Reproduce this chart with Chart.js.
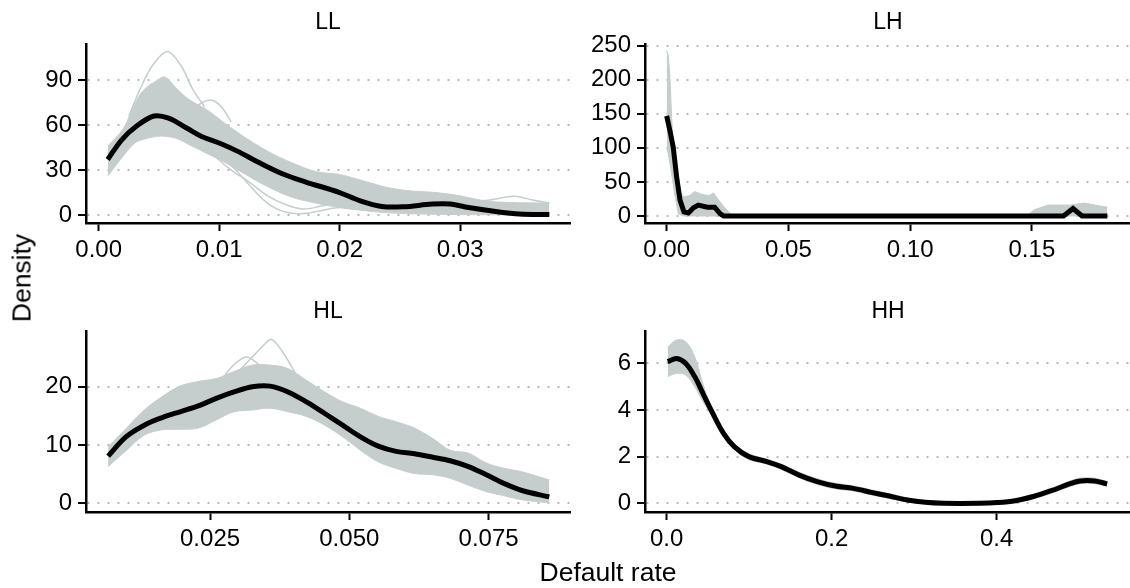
<!DOCTYPE html>
<html lang="en">
<head>
    <meta charset="UTF-8">
    <title>Default rate densities</title>
    <script src="https://cdn.jsdelivr.net/npm/chart.js"></script>
    <style>
        body {
            margin: 0;
            background: white;
            font-family: 'Liberation Sans', Arial, sans-serif;
        }
        .wrap { position: relative; width: 1130px; height: 588px; overflow: hidden; }
        canvas { position: absolute; }
        .label { position: absolute; color: black; white-space: nowrap; transform: translate(-50%, -50%); }
        .title { font-size: 23px; }
        .axis-title { font-size: 26.5px; }
    </style>
</head>
<body>
<div class="wrap">
    <canvas id="ll" width="571" height="270" style="left:0;top:0"></canvas>
    <canvas id="lh" width="559" height="270" style="left:571px;top:0"></canvas>
    <canvas id="hl" width="571" height="270" style="left:0;top:290px"></canvas>
    <canvas id="hh" width="559" height="270" style="left:571px;top:290px"></canvas>

    <div class="label title" style="left:328px;top:21px">LL</div>
    <div class="label title" style="left:888px;top:21px">LH</div>
    <div class="label title" style="left:328px;top:310px">HL</div>
    <div class="label title" style="left:888px;top:310px">HH</div>
    <div class="label axis-title" style="left:608px;top:572px">Default rate</div>
    <div class="label axis-title" style="left:22px;top:278px;transform:translate(-50%,-50%) rotate(-90deg)">Density</div>
</div>
<script>
    // ---- LL ----
    const llMeanX = [0.00075, 0.0019, 0.0031, 0.0046, 0.0058, 0.0073, 0.0085, 0.010, 0.0115, 0.0133, 0.0154, 0.0172, 0.020, 0.0217, 0.0235, 0.0253, 0.0277, 0.0292, 0.0307, 0.0331, 0.0349, 0.0374];
    const llMean = [37, 50, 59, 66, 64.6, 58, 52.5, 48, 42.6, 35, 27, 22, 15, 9.5, 5.7, 5.5, 7.3, 7.3, 5, 2.2, 0.7, 0.3];
    const llBandX = [0.00075, 0.002, 0.003, 0.0037, 0.0049, 0.0055, 0.0065, 0.0075, 0.009, 0.0105, 0.012, 0.014, 0.016, 0.018, 0.020, 0.022, 0.024, 0.026, 0.028, 0.030, 0.032, 0.034, 0.0374];
    const llHi = [46, 57, 74, 83, 90, 92, 84, 77, 70, 61, 52.5, 42.6, 35, 29, 27, 22.7, 18.3, 16, 15, 12.8, 9.5, 8.4, 8];
    const llLo = [26, 39, 48, 50.5, 52.5, 52.5, 51, 47, 41, 35, 28, 19, 12, 8, 5, 3, 1.5, 0.8, 0.5, 0.3, 0.2, 0.2, 0.2];
    const llSpikeX = [0.0025, 0.0035, 0.0045, 0.0057, 0.0068, 0.0078, 0.0088];
    const llSpike = [66, 85, 100, 109, 100, 84, 72];
    const llBumpX = [0.0078, 0.0086, 0.0094, 0.0102, 0.011];
    const llBump = [70, 75, 76.5, 72, 62];
    const llDipX = [0.0095, 0.011, 0.0125, 0.014, 0.0155, 0.017, 0.0185, 0.020, 0.022];
    const llDip1 = [42, 33, 20, 8, 2, 1, 3, 5, 4];
    const llDip2 = [40, 30, 22, 13, 7, 4, 6, 8, 6];
    const llTailX = [0.031, 0.0325, 0.0345, 0.036, 0.0374];
    const llTail = [9, 10, 12.5, 10, 8];
    const llXTicks = [0, 0.01, 0.02, 0.03];
    const llXLabels = ['0.00', '0.01', '0.02', '0.03'];
    const llYTicks = [0, 30, 60, 90];

    // ---- LH ----
    const lhMeanX = [0, 0.0014, 0.0027, 0.0041, 0.0055, 0.0071, 0.0089, 0.011, 0.013, 0.0167, 0.0197, 0.022, 0.0234, 0.163, 0.1669, 0.1706, 0.181];
    const lhMean = [147, 124, 101, 57, 23, 6, 4.5, 12, 16, 13, 13, 3, 0, 0, 11, 0, 0];
    const lhBandX = [0, 0.0007, 0.0014, 0.0021, 0.0034, 0.0048, 0.0068, 0.0095, 0.0115, 0.0135, 0.0155, 0.0175, 0.0192, 0.021, 0.0234, 0.027, 0.1479, 0.1509, 0.1568, 0.1657, 0.1716, 0.1775, 0.181];
    const lhHi = [243, 235, 200, 140, 70, 40, 28, 30, 36, 33, 31, 30, 34, 25, 14, 0, 0, 9, 16, 16, 19, 15, 13];
    const lhLo = [100, 90, 77, 60, 30, 3, 0, 0, 0, 0, 0, 0, 0, 0, 0, 0, 0, 0, 0, 0, 0, 0, 0];
    const lhXTicks = [0, 0.05, 0.10, 0.15];
    const lhXLabels = ['0.00', '0.05', '0.10', '0.15'];
    const lhYTicks = [0, 50, 100, 150, 200, 250];

    // ---- HL ----
    const hlX = [0.0067, 0.0099, 0.0132, 0.0164, 0.0196, 0.0229, 0.0261, 0.0293, 0.0326, 0.0358, 0.039, 0.0423, 0.0456, 0.0488, 0.052, 0.0552, 0.0584, 0.0617, 0.065, 0.0681, 0.0714, 0.0746, 0.0778, 0.081, 0.0859];
    const hlMean = [8.1, 11.4, 13.4, 14.7, 15.7, 16.7, 18, 19.1, 20, 20.1, 19.1, 17.4, 15.4, 13.4, 11.4, 9.8, 8.9, 8.5, 7.9, 7.3, 6.3, 4.9, 3.4, 2.2, 1.1];
    const hlHi = [9.7, 12.8, 16, 18.3, 20.1, 20.9, 21.4, 22.6, 23.7, 23.7, 23.1, 21.1, 19.1, 17.4, 16.3, 14.9, 14, 12.9, 11.1, 9.1, 8.6, 6.9, 6, 5.4, 4];
    const hlLo = [6.3, 9, 11.7, 12.6, 12.7, 12.9, 14.3, 15.7, 16, 16.3, 15.7, 14.9, 13.4, 11.4, 9.1, 7.1, 6, 5.1, 4.9, 4.3, 3.1, 2, 1.3, 0.6, 0.1];
    const hlSpikeX = [0.030, 0.0325, 0.0345, 0.036, 0.038, 0.0405];
    const hlSpike = [22.5, 25, 27, 28.1, 26, 22];
    const hlBumpX = [0.027, 0.029, 0.0315, 0.0335, 0.035];
    const hlBump = [21, 23.5, 25.1, 24, 22.5];
    const hlXTicks = [0.025, 0.050, 0.075];
    const hlXLabels = ['0.025', '0.050', '0.075'];
    const hlYTicks = [0, 10, 20];

    // ---- HH ----
    const hhX = [0.0013, 0.0122, 0.023, 0.034, 0.045, 0.0559, 0.069, 0.082, 0.0996, 0.1214, 0.1389, 0.1607, 0.1825, 0.2044, 0.2262, 0.248, 0.2699, 0.2917, 0.3135, 0.3354, 0.379, 0.4009, 0.4227, 0.4445, 0.4664, 0.4882, 0.5013, 0.5188, 0.534];
    const hhMean = [6.07, 6.21, 6.0, 5.43, 4.64, 3.86, 3.0, 2.43, 2.0, 1.79, 1.57, 1.21, 0.93, 0.74, 0.64, 0.47, 0.31, 0.14, 0.04, 0, 0, 0.03, 0.11, 0.29, 0.54, 0.83, 0.96, 0.96, 0.83];
    const hhHi = [6.7, 7.0, 6.93, 6.29, 5.0, 4.0, 3.12, 2.55, 2.12, 1.9, 1.68, 1.33, 1.05, 0.86, 0.75, 0.58, 0.41, 0.23, 0.12, 0.06, 0.06, 0.1, 0.2, 0.39, 0.65, 0.95, 1.08, 1.08, 0.93];
    const hhLo = [5.43, 5.57, 5.5, 5.0, 4.3, 3.72, 2.88, 2.31, 1.88, 1.68, 1.46, 1.09, 0.81, 0.62, 0.53, 0.36, 0.21, 0.06, 0, 0, 0, 0, 0.03, 0.19, 0.43, 0.71, 0.84, 0.84, 0.73];
    const hhXTicks = [0, 0.2, 0.4];
    const hhXLabels = ['0.0', '0.2', '0.4'];
    const hhYTicks = [0, 2, 4, 6];

    const GREY = '#c5cecd';
    const FONT = { family: "'Liberation Sans', Arial, sans-serif", size: 24 };

    function pts(xs, ys) {
        return xs.map((x, i) => ({ x: x, y: ys[i] }));
    }

    function greyLine(xs, ys) {
        return { data: pts(xs, ys), borderColor: GREY, borderWidth: 1.5, pointRadius: 0, fill: false, tension: 0.35 };
    }

    function makePanel(id, p) {
        let datasets = [
            { data: pts(p.meanX, p.mean), borderColor: '#000', borderWidth: 5, pointRadius: 0, fill: false, tension: p.tension },
            { data: pts(p.bandX, p.lo), borderColor: GREY, borderWidth: 1, pointRadius: 0, fill: false, tension: p.tension },
            { data: pts(p.bandX, p.hi), borderColor: GREY, borderWidth: 1, pointRadius: 0, fill: 1, backgroundColor: GREY, tension: p.tension }
        ];
        (p.extra || []).forEach(e => datasets.push(greyLine(e[0], e[1])));

        new Chart(document.getElementById(id), {
            type: 'line',
            data: { datasets },
            options: {
                responsive: false,
                animation: false,
                devicePixelRatio: 1,
                layout: { padding: { top: p.padTop, left: 0, right: 0, bottom: 0 } },
                plugins: { legend: { display: false }, tooltip: { enabled: false } },
                scales: {
                    x: {
                        type: 'linear',
                        min: p.xMin, max: p.xMax,
                        afterBuildTicks: s => { s.ticks = p.xTicks.map(v => ({ value: v })); },
                        afterFit: s => { s.height = p.xH; },
                        ticks: { autoSkip: false, maxRotation: 0, color: '#000', font: FONT, padding: 5,
                                 callback: (v, i) => p.xLabels[i] },
                        grid: { drawOnChartArea: false, drawTicks: true, tickLength: 8, tickColor: '#000', tickWidth: 2 },
                        border: { display: true, color: '#000', width: 2.5 }
                    },
                    y: {
                        min: p.yMin, max: p.yMax,
                        afterBuildTicks: s => { s.ticks = p.yTicks.map(v => ({ value: v })); },
                        afterFit: s => { s.width = p.yW; },
                        ticks: { autoSkip: false, color: '#000', font: FONT, padding: 6,
                                 callback: v => String(v) },
                        grid: { drawOnChartArea: true, color: '#b9b9b9', lineWidth: 2,
                                tickLength: 8, tickColor: '#000', tickWidth: 2, tickBorderDash: [] },
                        border: { display: true, color: '#000', width: 2.5, dash: [2, 8] }
                    }
                }
            }
        });
    }

    makePanel('ll', {
        meanX: llMeanX, mean: llMean, bandX: llBandX, hi: llHi, lo: llLo, tension: 0.35,
        extra: [[llSpikeX, llSpike], [llBumpX, llBump], [llDipX, llDip1], [llDipX, llDip2], [llTailX, llTail]],
        xMin: -0.00105, xMax: 0.0392, yMin: -5.3, yMax: 114,
        xTicks: llXTicks, xLabels: llXLabels, yTicks: llYTicks,
        padTop: 44, xH: 47, yW: 86
    });

    makePanel('lh', {
        meanX: lhMeanX, mean: lhMean, bandX: lhBandX, hi: lhHi, lo: lhLo, tension: 0,
        xMin: -0.0089, xMax: 0.1903, yMin: -10.3, yMax: 252.5,
        xTicks: lhXTicks, xLabels: lhXLabels, yTicks: lhYTicks,
        padTop: 44, xH: 47, yW: 74
    });

    makePanel('hl', {
        meanX: hlX, mean: hlMean, bandX: hlX, hi: hlHi, lo: hlLo, tension: 0.35,
        extra: [[hlSpikeX, hlSpike], [hlBumpX, hlBump]],
        xMin: 0.00273, xMax: 0.0898, yMin: -1.49, yMax: 29.55,
        xTicks: hlXTicks, xLabels: hlXLabels, yTicks: hlYTicks,
        padTop: 41, xH: 48, yW: 86
    });

    makePanel('hh', {
        meanX: hhX, mean: hhMean, bandX: hhX, hi: hhHi, lo: hhLo, tension: 0.35,
        xMin: -0.0262, xMax: 0.5617, yMin: -0.373, yMax: 7.385,
        xTicks: hhXTicks, xLabels: hhXLabels, yTicks: hhYTicks,
        padTop: 41, xH: 48, yW: 74
    });
</script>
</body>
</html>
